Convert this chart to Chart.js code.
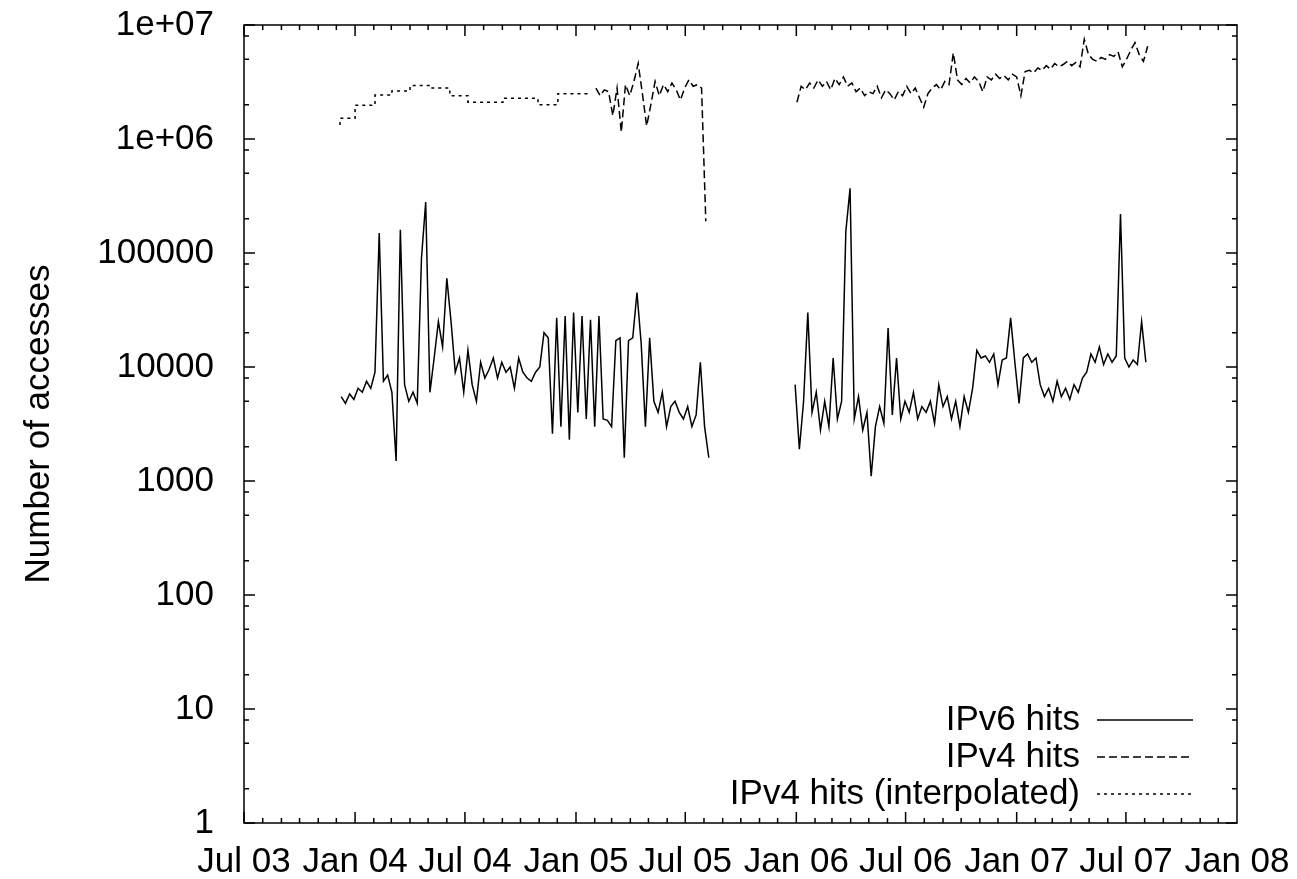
<!DOCTYPE html>
<html>
<head>
<meta charset="utf-8">
<script src="https://cdn.jsdelivr.net/npm/chart.js@4/dist/chart.umd.min.js"></script>
<style>
  html, body { margin: 0; padding: 0; background: #fff; }
  #wrap { width: 1297px; height: 879px; }
</style>
</head>
<body>
<div id="wrap"><canvas id="c"></canvas></div>
<script>
// Weekly samples
const ipv6StartA = '2003-12-09';
const ipv6A = [5500, 4800, 5800, 5200, 6500, 6000, 7500, 6500, 9000, 150000,
  7500, 8500, 6000, 1500, 160000, 7000, 5000, 6000, 4800, 90000,
  280000, 6000, 12000, 25000, 15000, 60000, 25000, 9000, 12000, 6000,
  14000, 7000, 5000, 11000, 8000, 9500, 12000, 8000, 11000, 9000,
  10000, 6500, 12000, 9000, 8000, 7500, 9000, 10000, 20000, 18000,
  2600, 27000, 3000, 28000, 2300, 30000, 4000, 28000, 3500, 26000,
  3000, 28000, 3500, 3400, 3000, 17000, 18000, 1600, 17000, 18000,
  45000, 16000, 3000, 18000, 5000, 4000, 6000, 3000, 4500, 5000,
  4000, 3500, 4500, 3000, 3800, 11000, 3000, 1600];

const ipv6StartB = '2005-12-30';
const ipv6B = [7000, 1900, 5000, 30000, 4000, 6000, 2800, 5000, 3000, 12000,
  3500, 5000, 155000, 370000, 3500, 5500, 2800, 4000, 1100, 3000,
  4500, 3200, 22000, 3800, 12000, 3500, 5000, 4000, 6000, 3500,
  4500, 4000, 5000, 3200, 7000, 4500, 5500, 3500, 5000, 3000,
  5500, 4000, 6500, 14000, 12000, 12500, 11000, 13000, 7000, 11500,
  12000, 27000, 11000, 4800, 12000, 13000, 11000, 12000, 7000, 5500,
  6500, 5000, 7500, 5500, 6500, 5200, 7000, 6000, 8000, 9000,
  13000, 11000, 15000, 10500, 13000, 11000, 12500, 220000, 12000, 10000,
  11500, 10500, 25000, 11000];

const ipv4StartA = '2005-02-03';
const ipv4A = [2.8e6, 2.4e6, 2.7e6, 2.6e6, 1.6e6, 2.8e6, 1.15e6, 3.0e6, 2.4e6, 3.2e6,
  4.6e6, 2.5e6, 1.3e6, 2.0e6, 3.2e6, 2.4e6, 3.0e6, 2.6e6, 3.1e6, 2.7e6,
  2.2e6, 2.8e6, 3.3e6, 2.9e6, 3.0e6, 2.8e6, 1.9e5];

const ipv4StartB = '2006-01-02';
const ipv4B = [2.1e6, 2.9e6, 2.7e6, 3.1e6, 2.8e6, 3.3e6, 2.9e6, 3.2e6, 2.7e6, 3.4e6,
  3.0e6, 3.5e6, 2.9e6, 3.1e6, 2.6e6, 2.8e6, 2.4e6, 2.6e6, 2.5e6, 2.9e6,
  2.3e6, 2.7e6, 2.5e6, 2.2e6, 2.6e6, 2.4e6, 2.9e6, 2.5e6, 2.8e6, 2.3e6,
  1.9e6, 2.5e6, 2.8e6, 3.0e6, 2.7e6, 3.2e6, 3.0e6, 5.7e6, 3.3e6, 3.0e6,
  3.4e6, 3.1e6, 3.5e6, 3.2e6, 2.6e6, 3.5e6, 3.3e6, 3.7e6, 3.4e6, 3.6e6,
  3.3e6, 3.7e6, 3.5e6, 2.4e6, 3.9e6, 4.0e6, 3.8e6, 4.2e6, 4.0e6, 4.4e6,
  4.1e6, 4.6e6, 4.3e6, 4.5e6, 4.8e6, 4.4e6, 4.7e6, 4.3e6, 7.5e6, 5.5e6,
  5.0e6, 4.8e6, 5.2e6, 5.0e6, 5.5e6, 5.3e6, 5.8e6, 4.3e6, 5.0e6, 6.0e6,
  7.0e6, 5.5e6, 4.8e6, 6.5e6];

// Interpolated IPv4 (step levels)
const interpDates = ['2003-12-07', '2004-01-01', '2004-02-03', '2004-03-02', '2004-04-01',
  '2004-05-04', '2004-06-06', '2004-07-06', '2004-09-02', '2004-10-30', '2004-12-02',
  '2005-01-03', '2005-01-24'];
const interpValues = [1.33e6, 1.52e6, 1.98e6, 2.43e6, 2.64e6, 2.94e6, 2.8e6, 2.4e6,
  2.1e6, 2.28e6, 2.0e6, 2.5e6, 2.5e6];

const xTickDates = ['2003-07-01', '2004-01-01', '2004-07-01', '2005-01-01', '2005-07-01',
  '2006-01-01', '2006-07-01', '2007-01-01', '2007-07-01', '2008-01-01'];
const xTickLabels = ['Jul 03', 'Jan 04', 'Jul 04', 'Jan 05', 'Jul 05',
  'Jan 06', 'Jul 06', 'Jan 07', 'Jul 07', 'Jan 08'];

const FONT = '"Liberation Sans", Arial, sans-serif';
const FSIZE = 35;
const DAY = 86400000;
const origin = Date.parse('2003-07-01T00:00:00Z');
function dayOf(s) { return (Date.parse(s + 'T00:00:00Z') - origin) / DAY; }
function weekly(start, vals) {
  const d0 = dayOf(start);
  return vals.map((v, i) => ({ x: d0 + 7 * i, y: v }));
}

const xTicks = xTickDates.map(dayOf);
const minorX = [];
for (let y = 2003; y <= 2007; y++) {
  for (let m = 0; m < 12; m++) {
    if (y === 2003 && m < 6) continue;
    minorX.push((Date.UTC(y, m, 1) - origin) / DAY);
  }
}

function line(data, dash, stepped) {
  return {
    data: data, borderColor: '#000', borderWidth: 1.5, borderDash: dash,
    pointRadius: 0, fill: false, tension: 0, stepped: stepped || false
  };
}

const legendItems = [
  { text: 'IPv6 hits', dash: [], y: 720 },
  { text: 'IPv4 hits', dash: [8, 4], y: 757 },
  { text: 'IPv4 hits (interpolated)', dash: [3, 4], y: 794 }
];

const framePlugin = {
  id: 'frame',
  afterDatasetsDraw(chart) {
    const ctx = chart.ctx;
    const a = chart.chartArea;
    const xs = chart.scales.x, ys = chart.scales.y;
    ctx.save();
    ctx.strokeStyle = '#000';
    ctx.lineWidth = 1.5;
    ctx.setLineDash([]);
    ctx.strokeRect(a.left, a.top, a.right - a.left, a.bottom - a.top);
    ctx.beginPath();
    // x ticks, inward, bottom and top
    minorX.forEach(d => {
      const px = xs.getPixelForValue(d);
      const len = xTicks.some(t => Math.abs(t - d) < 1) ? 11 : 5;
      ctx.moveTo(px, a.bottom); ctx.lineTo(px, a.bottom - len);
      ctx.moveTo(px, a.top); ctx.lineTo(px, a.top + len);
    });
    // y ticks, log decades plus minor
    for (let e = 0; e <= 7; e++) {
      [1, 2, 5, 8].forEach(m => {
        const v = m * Math.pow(10, e);
        if (v > 1e7) return;
        const py = ys.getPixelForValue(v);
        const len = m === 1 ? 11 : 5;
        ctx.moveTo(a.left, py); ctx.lineTo(a.left + len, py);
        ctx.moveTo(a.right, py); ctx.lineTo(a.right - len, py);
      });
    }
    ctx.stroke();
    // legend
    ctx.font = FSIZE + 'px ' + FONT;
    ctx.fillStyle = '#000';
    ctx.textAlign = 'right';
    ctx.textBaseline = 'middle';
    ctx.lineWidth = 1.4;
    legendItems.forEach(it => {
      ctx.fillText(it.text, 1080, it.y);
      ctx.beginPath();
      ctx.setLineDash(it.dash);
      ctx.moveTo(1097, it.y); ctx.lineTo(1193, it.y);
      ctx.stroke();
    });
    ctx.restore();
  }
};

new Chart(document.getElementById('c'), {
  type: 'line',
  data: {
    datasets: [
      line(weekly(ipv6StartA, ipv6A), []),
      line(weekly(ipv6StartB, ipv6B), []),
      line(weekly(ipv4StartA, ipv4A), [8, 4]),
      line(weekly(ipv4StartB, ipv4B), [8, 4]),
      line(interpDates.map((d, i) => ({ x: dayOf(d), y: interpValues[i] })), [3, 4], 'after')
    ]
  },
  options: {
    responsive: true,
    maintainAspectRatio: false,
    animation: false,
    layout: { padding: { top: 25, right: 60, left: 0, bottom: 0 } },
    plugins: { legend: { display: false }, tooltip: { enabled: false } },
    scales: {
      x: {
        type: 'linear', min: 0, max: dayOf('2008-01-01'),
        grid: { display: false }, border: { display: false },
        afterBuildTicks: s => { s.ticks = xTicks.map(v => ({ value: v })); },
        afterFit: s => { s.height = 56; s.paddingLeft = 0; s.paddingRight = 0; },
        ticks: {
          autoSkip: false, maxRotation: 0, padding: 10, color: '#000',
          font: { family: FONT, size: FSIZE },
          callback: (v) => xTickLabels[xTicks.indexOf(v)] || ''
        }
      },
      y: {
        type: 'logarithmic', min: 1, max: 1e7,
        grid: { display: false }, border: { display: false },
        afterBuildTicks: s => {
          const t = [];
          for (let e = 0; e <= 7; e++) t.push({ value: Math.pow(10, e) });
          s.ticks = t;
        },
        afterFit: s => { s.width = 244; s.paddingTop = 0; s.paddingBottom = 0; },
        title: {
          display: true, text: 'Number of accesses', color: '#000',
          font: { family: FONT, size: FSIZE }, padding: { top: 18, bottom: 0 }
        },
        ticks: {
          padding: 22, color: '#000',
          font: { family: FONT, size: FSIZE },
          callback: v => v >= 1e6 ? '1e+0' + Math.round(Math.log10(v)) : String(v)
        }
      }
    }
  },
  plugins: [framePlugin]
});
</script>
</body>
</html>
